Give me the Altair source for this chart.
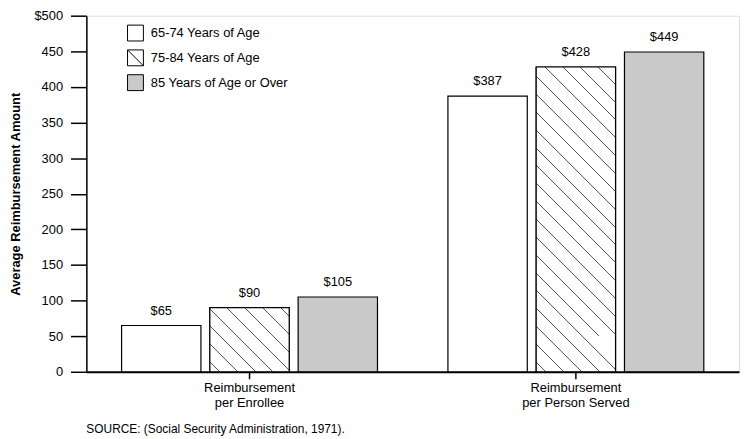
import altair as alt
import pandas as pd

# ---- data ----
groups = ["Reimbursement\nper Enrollee", "Reimbursement\nper Person Served"]
ages = ["65-74 Years of Age", "75-84 Years of Age", "85 Years of Age or Over"]
per_enrollee = [65, 90, 105]
per_person_served = [387, 428, 449]
y_ticks = [0, 50, 100, 150, 200, 250, 300, 350, 400, 450, 500]

rows = []
for g, vals in zip(groups, [per_enrollee, per_person_served]):
    for a, v in zip(ages, vals):
        rows.append({"group": g, "age": a, "value": v})
df = pd.DataFrame(rows)

# ---- layout / style ----
W, H = 658, 359
YMAX = 500
BAR_W = 80
FONT = "Liberation Sans"
fills = ["#ffffff", "#ffffff", "#c9c9c9"]
shapes = ["square", "M-1,-1H1V1H-1Z M-1,-1L1,1", "square"]


def hatch_gradient(h, w=BAR_W, spacing=18.0, lw=1.0, color="#555555"):
    """Backslash hatching drawn as a linear gradient with hard stops."""
    k = (w + h) / (w * w + h * h)
    total = w + h
    stops = [{"offset": 0, "color": "#ffffff"}]
    c = spacing * 0.55
    d = lw / 2.0 / total
    while c < total:
        t = c / total
        a, b = max(t - d, 0.0), min(t + d, 1.0)
        stops += [
            {"offset": a, "color": "#ffffff"},
            {"offset": a, "color": color},
            {"offset": b, "color": color},
            {"offset": b, "color": "#ffffff"},
        ]
        c += spacing
    stops.append({"offset": 1, "color": "#ffffff"})
    return {"gradient": "linear", "x1": 0, "y1": 1, "x2": k * w, "y2": 1 - k * h, "stops": stops}


def make_legend():
    return alt.Legend(
        title=None,
        orient="none",
        legendX=41,
        legendY=9,
        symbolSize=256,
        symbolStrokeColor="#000000",
        symbolStrokeWidth=1,
        labelFontSize=13,
        labelFont=FONT,
        labelColor="#000000",
        labelOffset=7,
        rowPadding=4,
    )


x_enc = alt.X(
    "group:N",
    sort=groups,
    scale=alt.Scale(paddingInner=0, paddingOuter=0),
    axis=alt.Axis(
        title=None,
        labelAngle=0,
        labelExpr="split(datum.label, '\\n')",
        labelFontSize=13,
        labelFont=FONT,
        labelColor="#000000",
        labelLineHeight=15,
        labelPadding=3,
        tickSize=7,
        tickWidth=1.5,
        tickColor="#000000",
        domainColor="#000000",
        domainWidth=2,
    ),
)
xo_enc = alt.XOffset("age:N", sort=ages, scale=alt.Scale(paddingInner=0.101, paddingOuter=0.399))
y_enc = alt.Y(
    "value:Q",
    scale=alt.Scale(domain=[0, YMAX], nice=False),
    axis=alt.Axis(
        values=y_ticks,
        title="Average Reimbursement Amount",
        titleFontSize=13,
        titleFont=FONT,
        titleFontWeight="bold",
        titleColor="#000000",
        titlePadding=11,
        labelExpr="datum.value == 500 ? '$' + datum.label : datum.label",
        labelFontSize=13,
        labelFont=FONT,
        labelColor="#000000",
        labelPadding=8,
        tickSize=16,
        tickWidth=1.5,
        tickColor="#000000",
        domainColor="#000000",
        domainWidth=1.5,
        grid=False,
    ),
)
fill_enc = alt.Fill("age:N", sort=ages, scale=alt.Scale(domain=ages, range=fills), legend=make_legend())

base = alt.Chart(df)

bars = base.mark_bar(stroke="#000000", strokeWidth=1.2).encode(
    x=x_enc, xOffset=xo_enc, y=y_enc, fill=fill_enc
)

hatch_layers = []
for g, vals in zip(groups, [per_enrollee, per_person_served]):
    h = vals[1] / YMAX * H
    hatch_layers.append(
        base.transform_filter((alt.datum.group == g) & (alt.datum.age == ages[1]))
        .mark_bar(fill=hatch_gradient(h), stroke="#000000", strokeWidth=1.2)
        .encode(x=x_enc, xOffset=xo_enc, y=y_enc)
    )

labels = base.transform_calculate(lab="'$' + datum.value").mark_text(
    baseline="bottom", dy=-8, fontSize=13, font=FONT, color="#000000"
).encode(x=x_enc, xOffset=xo_enc, y=y_enc, text="lab:N")

legend_pts = base.transform_filter(alt.datum.value < 0).mark_point(
    filled=True, stroke="#000000", strokeWidth=1, opacity=1
).encode(
    x=x_enc,
    y=y_enc,
    fill=fill_enc,
    shape=alt.Shape(
        "age:N",
        sort=ages,
        scale=alt.Scale(domain=ages, range=shapes),
        legend=make_legend(),
    ),
)

chart = (
    alt.layer(bars, *hatch_layers, labels, legend_pts)
    .properties(
        width=W,
        height=H,
        autosize=alt.AutoSizeParams(type="none"),
        padding={"left": 79, "top": 6, "right": 5, "bottom": 66},
        title=alt.TitleParams(
            "SOURCE: (Social Security Administration, 1971).",
            orient="bottom",
            anchor="start",
            frame="group",
            fontSize=12,
            fontWeight="normal",
            font=FONT,
            color="#000000",
            offset=15,
        ),
    )
    .configure_view(stroke=None)
    .configure(background="#ffffff")
)

chart.save("out.html", embed_options={"renderer": "svg", "actions": False})
